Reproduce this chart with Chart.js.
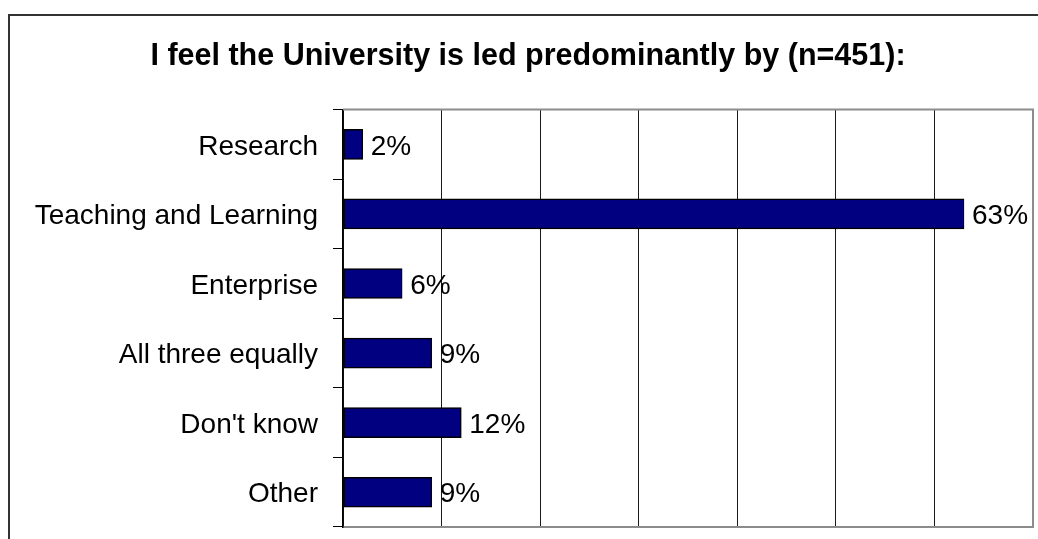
<!DOCTYPE html>
<html>
<head>
<meta charset="utf-8">
<script src="https://cdn.jsdelivr.net/npm/chart.js@4/dist/chart.umd.min.js"></script>
<style>
  html, body { margin: 0; padding: 0; background: #fff; overflow: hidden; }
  #wrap { position: absolute; left: 0; top: 0; width: 1048px; height: 539px; }
</style>
</head>
<body>
<div id="wrap"><canvas id="c" width="1048" height="539"></canvas></div>
<script>
// Survey responses: "I feel the University is led predominantly by"
const categories = ['Research', 'Teaching and Learning', 'Enterprise', 'All three equally', "Don't know", 'Other'];
const percentages = [2, 63, 6, 9, 12, 9];
const axisTicks = [0, 10, 20, 30, 40, 50, 60, 70];
const chartTitle = 'I feel the University is led predominantly by (n=451):';

const FONT = "'Liberation Sans', Arial, sans-serif";

// Outer frame plus the grey top/right edges of the plot area
const framePlugin = {
  id: 'frame',
  beforeDraw(chart) {
    const ctx = chart.ctx;
    ctx.save();
    ctx.fillStyle = '#fff';
    ctx.fillRect(0, 0, chart.width, chart.height);
    ctx.strokeStyle = '#333';
    ctx.lineWidth = 2;
    ctx.beginPath();
    ctx.moveTo(9, chart.height + 5);
    ctx.lineTo(9, 15);
    ctx.lineTo(chart.width + 5, 15);
    ctx.stroke();
    ctx.restore();
  },
  afterDatasetsDraw(chart) {
    const { ctx, chartArea: a } = chart;
    ctx.save();
    ctx.strokeStyle = '#8c8c8c';
    ctx.lineWidth = 2;
    ctx.beginPath();
    ctx.moveTo(a.left, a.top);
    ctx.lineTo(a.right, a.top);
    ctx.lineTo(a.right, a.bottom);
    ctx.stroke();
    ctx.restore();
  }
};

// Percentage text to the right of each bar
const valueLabels = {
  id: 'valueLabels',
  afterDatasetsDraw(chart) {
    const ctx = chart.ctx;
    const meta = chart.getDatasetMeta(0);
    ctx.save();
    ctx.font = '28px ' + FONT;
    ctx.fillStyle = '#000';
    ctx.textAlign = 'left';
    ctx.textBaseline = 'middle';
    meta.data.forEach((bar, i) => {
      ctx.fillText(percentages[i] + '%', bar.x + 8, bar.y + 2.5);
    });
    ctx.restore();
  }
};

new Chart(document.getElementById('c'), {
  type: 'bar',
  data: {
    labels: categories,
    datasets: [{
      data: percentages,
      backgroundColor: '#000080',
      borderColor: '#000',
      borderWidth: 1.5,
      borderSkipped: false,
      barThickness: 30
    }]
  },
  options: {
    indexAxis: 'y',
    responsive: false,
    animation: false,
    devicePixelRatio: 1,
    layout: { padding: { left: 23, top: 14, right: 15, bottom: 12 } },
    plugins: {
      legend: { display: false },
      tooltip: { enabled: false },
      title: {
        display: true,
        text: chartTitle,
        color: '#000',
        font: { family: FONT, size: 30.5, weight: 'bold', lineHeight: 1.2 },
        padding: { top: 24, bottom: 35 }
      }
    },
    scales: {
      x: {
        min: 0,
        max: 70,
        afterBuildTicks(scale) { scale.ticks = axisTicks.map(v => ({ value: v })); },
        afterFit(scale) { scale.height = 0; scale.paddingLeft = 0; scale.paddingRight = 0; },
        ticks: { display: false },
        grid: {
          color: '#1a1a1a',
          lineWidth: 1,
          drawTicks: false
        },
        border: { display: true, color: '#8c8c8c', width: 2 }
      },
      y: {
        afterFit(scale) {
          scale.width = 320;
          scale.paddingTop = 0;
          scale.paddingBottom = 0;
        },
        ticks: {
          color: '#000',
          padding: 15,
          labelOffset: 2.5,
          font: { family: FONT, size: 28 }
        },
        grid: {
          offset: true,
          drawOnChartArea: false,
          drawTicks: true,
          tickLength: 10,
          color: '#000',
          lineWidth: 1
        },
        border: { display: true, color: '#000', width: 1.5 }
      }
    }
  },
  plugins: [framePlugin, valueLabels]
});
</script>
</body>
</html>
